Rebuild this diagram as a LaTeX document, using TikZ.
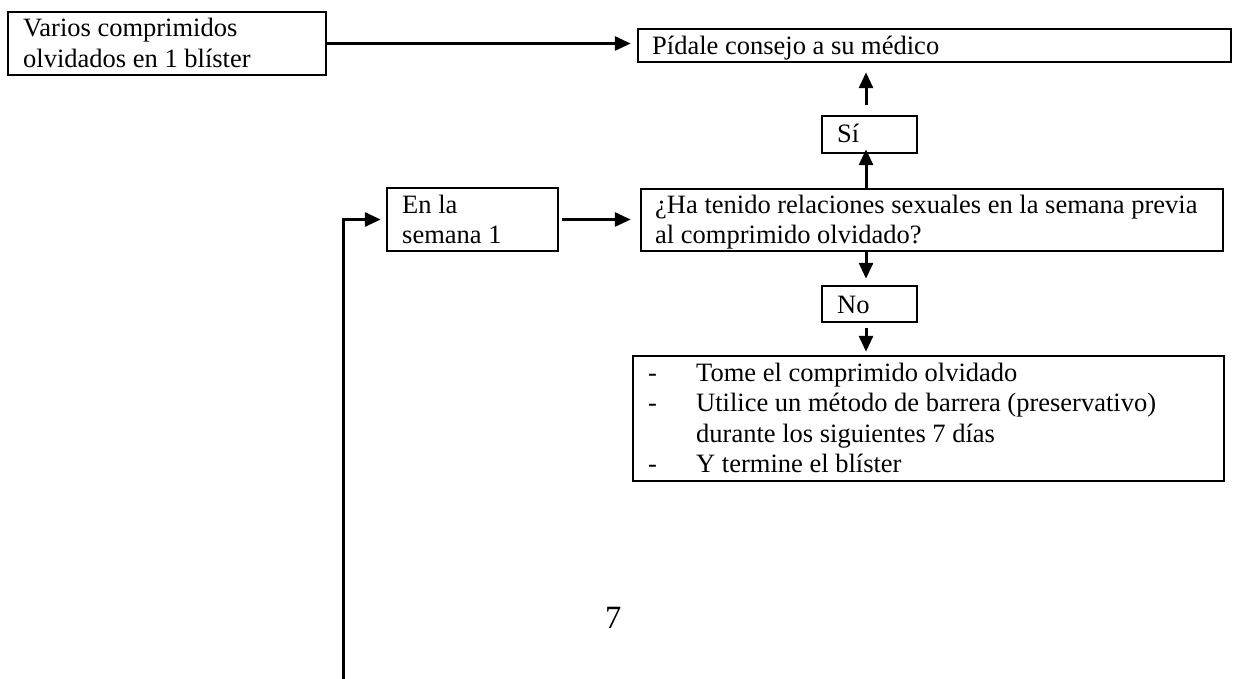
\documentclass[tikz,border=0pt]{standalone}
\usepackage{fontspec}
\setmainfont{Liberation Serif}
\usetikzlibrary{arrows.meta}
\begin{document}
\begin{tikzpicture}[x=1pt,y=-1pt,
  box/.style={draw, line width=2.5pt, rectangle, inner sep=0pt},
  txt/.style={inner sep=0pt, anchor=base west, font=\fontsize{26.5}{30.5}\selectfont},
  arr/.style={line width=3pt, -{Triangle[length=16pt,width=14pt]}}]
\useasboundingbox (0,0) rectangle (1233,679);
% boxes
\node[box, minimum width=318pt, minimum height=63pt]  (a)      at (167,43.5)   {};
\node[box, minimum width=593pt, minimum height=33pt]  (pidale) at (934.5,45.5) {};
\node[box, minimum width=95pt,  minimum height=37pt]  (si)     at (869.5,134.5){};
\node[box, minimum width=582pt, minimum height=62pt]  (ha)     at (932,220)    {};
\node[box, minimum width=171pt, minimum height=63pt]  (en)     at (472.5,219.5){};
\node[box, minimum width=95pt,  minimum height=36pt]  (no)     at (869.5,304)  {};
\node[box, minimum width=591pt, minimum height=125pt] (bot)    at (928.5,418.5){};
% texts
\node[txt] (atext) at (23,37) {\begin{tabular}[t]{@{}l@{}}Varios comprimidos\\olvidados en 1 blíster\end{tabular}};
\node[txt] (ptext) at (652,55) {Pídale consejo a su médico};
\node[txt] (stext) at (837,143) {Sí};
\node[txt] (htext) at (655,213) {\begin{tabular}[t]{@{}l@{}}¿Ha tenido relaciones sexuales en la semana previa\\al comprimido olvidado?\end{tabular}};
\node[txt] (etext) at (402,213) {\begin{tabular}[t]{@{}l@{}}En la\\semana 1\end{tabular}};
\node[txt] (ntext) at (837,313) {No};
\node[txt] (btext) at (648,381) {\begin{tabular}[t]{@{}l@{}}\makebox[48pt][l]{-}Tome el comprimido olvidado\\
\makebox[48pt][l]{-}Utilice un método de barrera (preservativo)\\
\hspace*{48pt}durante los siguientes 7 días\\
\makebox[48pt][l]{-}Y termine el blíster\end{tabular}};
\node[inner sep=0pt, anchor=base west, font=\fontsize{32.5}{36}\selectfont] (page) at (605,628) {7};
% connectors
\coordinate (vx) at (866,0);
\coordinate (lb) at (343,682);
\draw[arr, shorten >=6pt] (a.east) -- (pidale.west |- a.east);
\draw[arr, shorten <=10pt, shorten >=9pt] (vx |- si.north) -- (vx |- pidale.south);
\draw[arr, shorten >=-5pt] (vx |- ha.north) -- (vx |- si.south);
\draw[arr, shorten >=6pt] (vx |- ha.south) -- (vx |- no.north);
\draw[arr, shorten <=5pt, shorten >=3pt] (vx |- no.south) -- (vx |- bot.north);
\draw[arr, shorten <=3pt, shorten >=9pt] (en.east) -- (ha.west |- en.east);
\draw[arr, shorten >=5pt] (lb) |- (en.west);
\end{tikzpicture}
\end{document}
